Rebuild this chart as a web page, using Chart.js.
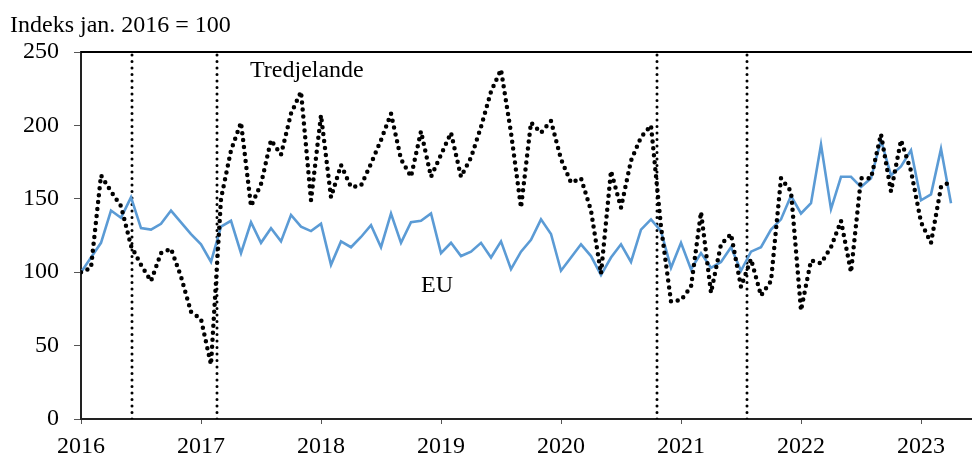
<!DOCTYPE html>
<html>
<head>
<meta charset="utf-8">
<script src="https://cdn.jsdelivr.net/npm/chart.js@4/dist/chart.umd.min.js"></script>
<style>
  html, body { margin: 0; padding: 0; background: #fff; }
  #wrap { width: 972px; height: 458px; position: relative; }
</style>
</head>
<body>
<div id="wrap"><canvas id="chart"></canvas></div>
<script>
// månedlige tal, jan. 2016 - apr. 2023
const years = ["2016", "2017", "2018", "2019", "2020", "2021", "2022", "2023"];

const eu = [
  100, 110, 120, 142, 137, 151, 130, 129, 133, 142, 134, 126,
  119, 107, 131, 135, 113, 134, 120, 130, 121, 139, 131, 128,
  133, 105, 121, 117, 124, 132, 117, 140, 120, 134, 135, 140,
  113, 120, 111, 114, 120, 110, 121, 102, 114, 122, 136, 126,
  101, 110, 119, 111, 98, 110, 119, 107, 129, 136, 128, 103,
  120, 102, 113, 103, 107, 117, 101, 114, 117, 129, 136, 152,
  140, 147, 187, 143, 165, 165, 158, 164, 190, 166, 172, 183,
  149, 153, 184, 147
];

const tredjelande = [
  100, 103, 166, 155, 145, 118, 105, 94, 113, 116, 97, 73,
  68, 37, 150, 183, 202, 145, 160, 190, 180, 208, 223, 149,
  207, 151, 173, 158, 159, 174, 190, 208, 177, 165, 196, 165,
  180, 195, 165, 178, 199, 223, 238, 195, 144, 202, 195, 203,
  177, 161, 164, 142, 99, 169, 144, 176, 192, 200, 131, 80,
  81, 90, 141, 86, 119, 126, 90, 109, 84, 94, 164, 155,
  74, 108, 106, 117, 135, 100, 164, 164, 194, 155, 190, 169,
  134, 120, 158, 162
];

// lodrette prikkede linjer (måned nr. fra jan. 2016)
const events = [5.1, 13.6, 57.6, 66.6];

// tekst i plottet: [tekst, måned, indeks]
const seriesLabels = [
  ["Tredjelande", 16.9, 237.5],
  ["EU", 35.6, 90.5]
];

const FONT = "'Liberation Serif', 'Times New Roman', serif";

const toPoints = arr => arr.map((v, i) => ({ x: i, y: v }));

const eventSets = events.map(m => ({
  data: [{ x: m, y: 0 }, { x: m, y: 250 }],
  borderColor: "#000",
  borderWidth: 3,
  borderDash: [0, 6.5],
  borderCapStyle: "round",
  pointRadius: 0,
  order: 2
}));

const extras = {
  id: "extras",
  afterDraw(chart) {
    const { ctx, chartArea, scales } = chart;
    ctx.save();
    // topkant
    ctx.strokeStyle = "#000";
    ctx.lineWidth = 2;
    ctx.beginPath();
    ctx.moveTo(chartArea.left, chartArea.top);
    ctx.lineTo(chartArea.right, chartArea.top);
    ctx.stroke();

    ctx.fillStyle = "#000";
    ctx.font = "24px " + FONT;
    ctx.textBaseline = "alphabetic";
    ctx.textAlign = "left";
    ctx.fillText("Indeks jan. 2016 = 100", 10, 32);

    ctx.textBaseline = "middle";
    seriesLabels.forEach(([txt, m, v], i) => {
      ctx.textAlign = i === 0 ? "left" : "center";
      ctx.fillText(txt, scales.x.getPixelForValue(m), scales.y.getPixelForValue(v));
    });
    ctx.restore();
  }
};

new Chart(document.getElementById("chart"), {
  type: "line",
  data: {
    datasets: [
      {
        label: "Tredjelande",
        data: toPoints(tredjelande),
        borderColor: "#000",
        borderWidth: 4.5,
        borderDash: [0, 7],
        borderCapStyle: "round",
        pointRadius: 0,
        tension: 0,
        order: 0
      },
      {
        label: "EU",
        data: toPoints(eu),
        borderColor: "#5b9bd5",
        borderWidth: 2.6,
        pointRadius: 0,
        tension: 0,
        order: 1
      },
      ...eventSets
    ]
  },
  options: {
    responsive: true,
    maintainAspectRatio: false,
    animation: false,
    events: [],
    layout: { padding: { top: 52, left: 0, right: 0, bottom: 0 } },
    plugins: { legend: { display: false }, tooltip: { enabled: false } },
    scales: {
      x: {
        type: "linear",
        min: 0,
        max: 89.1,
        afterFit: s => { s.height = 39; },
        afterBuildTicks: s => { s.ticks = years.map((y, i) => ({ value: i * 12 })); },
        ticks: {
          callback: (v, i) => years[i],
          font: { family: FONT, size: 24 },
          color: "#000",
          padding: 8,
          maxRotation: 0
        },
        grid: { drawOnChartArea: false, tickLength: 5, color: "#555" },
        border: { color: "#222", width: 2 }
      },
      y: {
        min: 0,
        max: 250,
        afterFit: s => { s.width = 81; },
        ticks: {
          stepSize: 50,
          font: { family: FONT, size: 24 },
          color: "#000",
          padding: 15
        },
        grid: { drawOnChartArea: false, tickLength: 7, color: "#555" },
        border: { color: "#222", width: 2 }
      }
    }
  },
  plugins: [extras]
});
</script>
</body>
</html>
